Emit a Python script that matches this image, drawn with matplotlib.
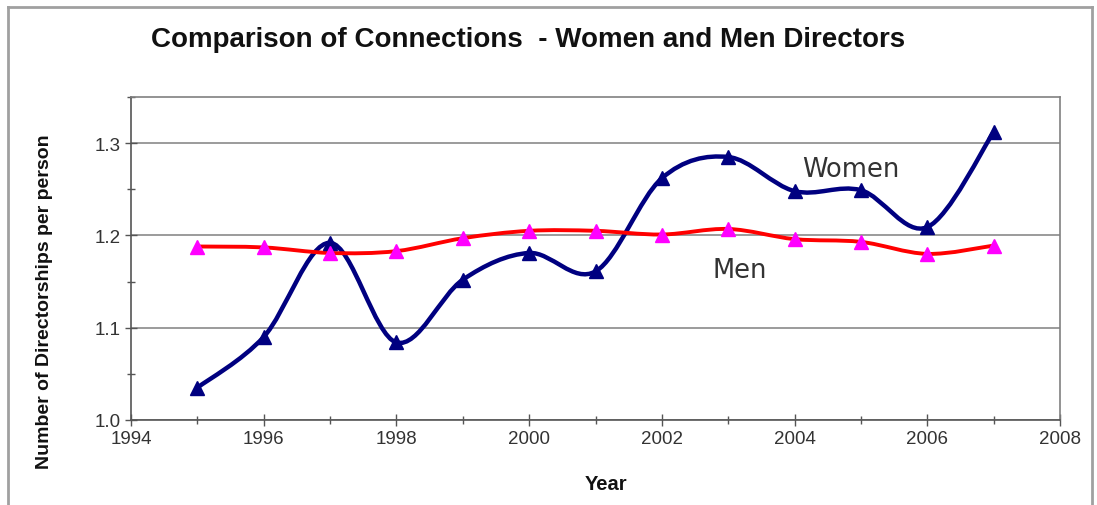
import matplotlib
matplotlib.use("Agg")
import matplotlib.pyplot as plt
from matplotlib.path import Path
from matplotlib.patches import PathPatch
from matplotlib.ticker import MultipleLocator
from matplotlib.lines import Line2D
import numpy as np

years = [1995, 1996, 1997, 1998, 1999, 2000, 2001, 2002, 2003, 2004, 2005, 2006, 2007]
women = [1.035, 1.090, 1.192, 1.084, 1.152, 1.181, 1.161, 1.262, 1.285, 1.248, 1.249, 1.209, 1.312]
men = [1.188, 1.187, 1.181, 1.183, 1.197, 1.205, 1.205, 1.201, 1.207, 1.196, 1.193, 1.180, 1.189]
x_ticks = [1994, 1996, 1998, 2000, 2002, 2004, 2006, 2008]
y_ticks = [1.0, 1.1, 1.2, 1.3]

plt.rcParams['font.family'] = ['Liberation Sans', 'DejaVu Sans']


def smooth_path(xs, ys):
    """Bezier path through the points, using spreadsheet-style smoothing."""
    pts = np.column_stack([xs, ys]).astype(float)
    n = len(pts)
    verts = [pts[0]]
    codes = [Path.MOVETO]
    for i in range(n - 1):
        p0 = pts[i - 1] if i > 0 else pts[i]
        p1 = pts[i]
        p2 = pts[i + 1]
        p3 = pts[i + 2] if i + 2 < n else pts[i + 1]
        c1 = p1 + (p2 - p0) / 6.0
        c2 = p2 - (p3 - p1) / 6.0
        verts += [c1, c2, p2]
        codes += [Path.CURVE4] * 3
    return Path(verts, codes)


fig = plt.figure(figsize=(10.97, 5.06), dpi=100)
ax = fig.add_axes([0.1194, 0.168, 0.9663 - 0.1194, 0.8063 - 0.168])

ax.set_xlim(1994, 2008)
ax.set_ylim(1.0, 1.35)

ax.yaxis.set_minor_locator(MultipleLocator(0.05))
ax.set_yticks(y_ticks)
ax.set_yticklabels([f"{v:.1f}" for v in y_ticks])
ax.xaxis.set_minor_locator(MultipleLocator(1))
ax.set_xticks(x_ticks)
ax.set_xticklabels([str(v) for v in x_ticks])

ax.grid(axis='y', which='major', color='#8a8a8a', linewidth=1.2, zorder=0)
for s in ax.spines.values():
    s.set_color('#808080')
    s.set_linewidth(1.2)
ax.spines['left'].set_color('#555555')
ax.spines['bottom'].set_color('#555555')
ax.tick_params(axis='both', which='both', direction='inout', color='#555555', width=1.0)
ax.tick_params(axis='both', which='major', length=8, labelsize=13.5, labelcolor='#333333')
ax.tick_params(axis='both', which='minor', length=6)
ax.tick_params(axis='x', which='major', pad=3)

# Women series
ax.add_patch(PathPatch(smooth_path(years, women), facecolor='none', edgecolor='#000080',
                       linewidth=3.2, zorder=3, capstyle='round', joinstyle='round'))
ax.plot(years, women, linestyle='none', marker='^', markersize=10.5,
        color='#000080', zorder=4)

# Men series
ax.add_patch(PathPatch(smooth_path(years, men), facecolor='none', edgecolor='#ff0000',
                       linewidth=2.8, zorder=3, capstyle='round', joinstyle='round'))
ax.plot(years, men, linestyle='none', marker='^', markersize=10.5,
        color='#ff00ff', zorder=4)

ax.text(2004.12, 1.272, 'Women', fontsize=18.5, color='#333333',
        family=['DejaVu Sans'], va='center', ha='left')
ax.text(2002.77, 1.163, 'Men', fontsize=18.5, color='#333333',
        family=['DejaVu Sans'], va='center', ha='left')

fig.text(0.481, 0.921, 'Comparison of Connections  - Women and Men Directors',
         fontsize=20, fontweight='bold', ha='center', va='center', color='#111111')
fig.text(0.041, 0.403, 'Number of Directorships per person', rotation=90,
         fontsize=14, fontweight='bold', ha='center', va='center', color='#111111')
fig.text(0.552, 0.042, 'Year', fontsize=14.5, fontweight='bold',
         ha='center', va='center', color='#111111')

# Outer frame
frame_kw = dict(color='#a0a0a0', linewidth=2.0, transform=fig.transFigure)
fig.add_artist(Line2D([0.0073, 0.0073], [0.0, 0.984], **frame_kw))
fig.add_artist(Line2D([0.0073, 0.995], [0.984, 0.984], **frame_kw))
fig.add_artist(Line2D([0.995, 0.995], [0.0, 0.984], **frame_kw))

fig.savefig('out.png', dpi=100)
